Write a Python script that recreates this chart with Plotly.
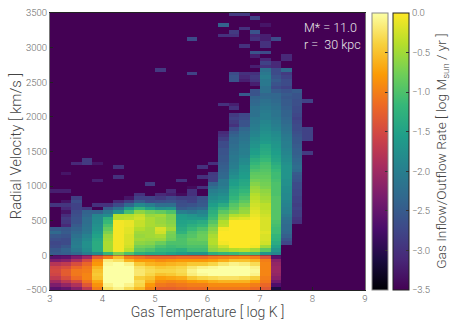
import plotly.graph_objects as go

FONT = "Roboto"
temperature_edges = [3.0 + 0.2 * i for i in range(31)]
velocity_edges = [-500 + 50 * i for i in range(81)]
inflow_velocity_edges = velocity_edges[:11]
outflow_velocity_edges = velocity_edges[10:]

# inflow: each column lists rows from -500 upward to 0 km/s
inflow_columns = [
    [-2.6,-2.3,-2.0,-1.7,-1.55,-1.5,-1.55,-1.8,-2.3,-2.6],
    [-2.5,-2.1,-1.75,-1.45,-1.3,-1.3,-1.45,-1.7,-2.2,-2.55],
    [-2.2,-1.85,-1.5,-1.15,-1.05,-1.05,-1.2,-1.45,-1.9,-2.3],
    [-1.7,-1.35,-1.1,-0.95,-0.95,-1.0,-1.05,-1.2,-1.5,-2.0],
    [-1.0,-0.85,-0.7,-0.5,-0.45,-0.5,-0.6,-0.8,-0.9,-1.3],
    [-0.25,-0.1,0,0,0,0,0,-0.05,-0.15,-1.0],
    [-0.1,0,0,0,0,0,0,0,-0.25,-0.55],
    [-0.3,-0.1,0,0,0,0,0,-0.1,-0.6,-1.0],
    [-0.55,-0.35,-0.3,-0.4,-0.2,-0.2,-0.25,-0.45,-0.8,-1.1],
    [-0.95,-0.8,-0.6,-0.5,-0.35,-0.3,-0.35,-0.6,-0.8,-1.2],
    [-1.25,-1.05,-0.9,-0.75,-0.5,-0.35,-0.45,-0.65,-0.9,-1.2],
    [-1.25,-1.1,-0.95,-0.7,-0.45,-0.35,-0.4,-0.6,-0.85,-1.2],
    [-1.2,-1.05,-0.9,-0.65,-0.35,-0.3,-0.35,-0.55,-0.8,-1.15],
    [-1.15,-1.0,-0.8,-0.45,-0.15,-0.1,-0.2,-0.45,-0.8,-1.15],
    [-1.15,-1.0,-0.75,-0.35,-0.05,0,-0.1,-0.45,-0.8,-1.15],
    [-1.05,-0.9,-0.65,-0.3,0,0,-0.05,-0.35,-0.75,-1.05],
    [-1.05,-0.9,-0.6,-0.25,0,0,0,-0.2,-0.65,-1.0],
    [-1.05,-0.9,-0.6,-0.25,0,0,0,-0.1,-0.5,-0.95],
    [-1.05,-0.9,-0.6,-0.3,0,0,0,-0.15,-0.5,-0.9],
    [-1.15,-1.0,-0.75,-0.4,-0.1,-0.05,-0.1,-0.3,-0.6,-1.0],
    [-1.35,-1.2,-1.05,-1.0,-0.95,-0.95,-0.95,-0.95,-1.0,-1.4],
    [-3.1,-2.7,-2.4,-2.2,-2.1,-2.05,-2.05,-2.1,-2.2,-2.6],
]

# outflow: each column lists rows from 0 km/s upward in 50 km/s steps
outflow_columns = [
    [-2.5,-2.55,-2.7,-2.75,-2.65,-2.55,-2.3,-2.5,-3.5,-3.5,-3.5,-3.5,-3.5,-3.5,-2.95],
    [-2.45,-2.4,-2.55,-2.7,-2.7,-2.6,-2.5,-2.55,-3.1,-2.95,-2.9,-3.05,-3.3,-3.1,-2.95,-3.3],
    [-2.3,-2.1,-2.0,-2.05,-2.1,-2.2,-2.3,-2.4,-2.5,-2.6,-2.6,-2.65,-2.7,-2.8,-2.8,-2.7,-2.85],
    [-2.0,-1.8,-1.75,-1.75,-1.85,-1.95,-2.1,-2.15,-2.2,-2.25,-2.25,-2.35,-2.4,-2.9],
    [-1.8,-1.35,-1.35,-1.35,-1.4,-1.5,-1.6,-1.7,-1.75,-1.8,-1.85,-1.9,-2.4,-3.5,-3.0],
    [-1.2,-0.45,-0.45,-0.45,-0.5,-0.55,-0.7,-0.85,-1.0,-1.15,-1.25,-1.8,-2.1,-2.5,-3.0],
    [-0.7,-0.05,-0.05,-0.05,-0.05,-0.05,-0.05,-0.05,-0.05,-0.05,-0.4,-0.4,-1.7,-2.2,-2.7,-3.1],
    [-1.0,-0.35,-0.25,-0.2,-0.2,-0.2,-0.15,-0.15,-0.1,-0.1,-0.35,-0.4,-1.05,-1.6,-2.3,-2.85,-3.3],
    [-1.3,-0.9,-0.75,-0.6,-0.5,-0.55,-0.5,-0.4,-0.3,-0.3,-0.25,-0.3,-0.6,-1.2,-1.85,-2.5,-2.8,-3.0],
    [-1.4,-1.0,-0.8,-0.65,-0.55,-0.5,-0.5,-0.5,-0.45,-0.45,-0.45,-0.55,-0.75,-1.5,-2.0,-2.7,-2.8],
    [-1.4,-1.15,-1.0,-0.8,-0.55,-0.45,-0.25,-0.2,-0.5,-0.55,-0.55,-0.5,-0.85,-1.75,-2.25,-2.65,-2.9,-3.1],
    [-1.5,-1.2,-1.1,-1.0,-0.8,-0.75,-0.7,-0.5,-0.6,-0.65,-0.7,-0.7,-1.0,-1.7,-2.25,-2.6,-2.75,-3.2,-3.1],
    [-1.6,-1.3,-1.05,-1.0,-1.0,-1.05,-1.25,-1.35,-1.45,-1.5,-1.55,-1.6,-2.0,-2.5,-2.65,-2.7,-2.85,-3.4],
    [-1.7,-1.1,-1.0,-0.9,-0.85,-0.95,-1.0,-1.15,-1.3,-1.45,-1.6,-1.7,-2.1,-2.4,-2.6,-2.8,-2.85,-3.0,-3.0,-3.4],
    [-1.7,-1.1,-1.0,-0.9,-0.8,-0.8,-0.85,-1.0,-1.2,-1.35,-1.6,-1.8,-1.95,-2.3,-2.5,-2.55,-2.65,-3.5,-3.5,-3.0],
    [-1.3,-0.6,-0.5,-0.4,-0.4,-0.45,-0.55,-0.65,-0.8,-0.95,-1.1,-1.2,-1.3,-1.4,-1.55,-1.7,-1.8,-1.9,-2.0,-2.2,-2.4,-2.85,-2.85,-2.9,-3.5,-3.5,-3.0],
    [-1.2,-0.5,-0.25,-0.05,0,0,0,-0.05,-0.35,-0.4,-0.6,-0.7,-0.9,-1.1,-1.35,-1.6,-1.7,-1.8,-1.9,-2.0,-2.1,-2.1,-2.3,-2.35,-2.4,-2.45,-2.5,-2.55,-2.55,-2.6,-2.6,-2.7,-2.7,-2.85,-3.0,-3.1],
    [-1.15,-0.4,0,0,0,0,0,0,0,0,-0.2,-0.4,-0.7,-0.85,-0.95,-1.1,-1.2,-1.3,-1.35,-1.45,-1.55,-1.6,-1.75,-1.85,-1.9,-2.0,-2.05,-2.1,-2.1,-2.15,-2.2,-2.25,-2.3,-2.3,-2.4,-2.5,-2.7,-3.0,-2.9,-2.8,-2.9],
    [-1.05,-0.35,0,0,0,0,0,0,0,0,-0.15,-0.35,-0.55,-0.6,-0.75,-0.9,-1.0,-1.1,-1.2,-1.3,-1.4,-1.45,-1.55,-1.6,-1.65,-1.7,-1.8,-1.85,-1.95,-2.0,-2.0,-2.05,-2.1,-2.15,-2.2,-2.25,-2.35,-2.6,-2.6,-2.7,-2.75],
    [-1.1,-0.5,-0.05,0,0,0,0,0,0,0,-0.05,-0.1,-0.15,-0.2,-0.25,-0.3,-0.35,-0.4,-0.5,-0.55,-0.65,-0.75,-0.85,-0.9,-1.0,-1.1,-1.2,-1.3,-1.45,-1.55,-1.6,-1.7,-1.75,-1.8,-1.9,-1.95,-2.0,-2.05,-2.1,-2.1,-2.2,-2.2,-2.2,-2.3,-2.35,-2.4],
    [-1.7,-0.9,-0.5,-0.25,-0.2,-0.2,-0.15,-0.2,-0.2,-0.2,-0.2,-0.25,-0.3,-0.35,-0.35,-0.45,-0.5,-0.55,-0.6,-0.7,-0.75,-0.8,-0.85,-0.9,-0.95,-1.0,-1.05,-1.15,-1.25,-1.35,-1.4,-1.45,-1.6,-1.65,-1.7,-1.75,-1.8,-1.85,-1.9,-2.0,-2.0,-2.05,-2.1,-2.15,-2.2,-2.3],
    [-1.9,-1.7,-1.5,-1.35,-1.25,-1.2,-1.1,-1.1,-1.05,-1.0,-0.95,-0.95,-0.95,-0.95,-0.95,-0.95,-0.95,-1.0,-1.0,-1.0,-1.0,-1.05,-1.1,-1.1,-1.15,-1.25,-1.35,-1.45,-1.5,-1.55,-1.6,-1.65,-1.7,-1.75,-1.8,-1.85,-1.95,-2.0,-2.05,-2.1,-2.15,-2.15,-2.2,-2.25,-2.3,-2.35],
    [-3.5,-3.5,-3.5,-2.75,-2.6,-2.45,-2.35,-2.3,-2.3,-2.25,-2.2,-2.1,-2.0,-2.0,-1.95,-1.9,-1.85,-1.85,-1.8,-1.8,-1.75,-1.75,-1.7,-1.7,-1.7,-1.7,-1.75,-1.8,-1.85,-1.9,-1.95,-2.0,-2.0,-2.05,-2.1,-2.15,-2.2,-2.25,-2.3,-2.35,-2.4,-2.4,-2.45,-2.5,-2.5,-2.55],
    [-3.5,-3.5,-3.5,-3.5,-3.5,-3.5,-3.5,-3.5,-3.5,-3.0,-2.95,-2.85,-2.85,-2.8,-2.85,-2.8,-2.8,-2.75,-2.75,-2.7,-2.7,-2.6,-2.55,-2.5,-2.3,-2.25,-2.3,-2.35,-2.4,-2.45,-2.45,-2.5,-2.55,-2.55,-2.6,-2.65,-2.7,-2.7,-2.75,-2.8,-2.75,-2.7,-2.7,-2.65,-2.65,-2.6],
    [],
]

# isolated faint cells: (column index, lower velocity edge, value)
outflow_spots = [
    (2,1300,-3.1),(3,1300,-2.9),(3,1350,-2.9),(4,1300,-3.3),(6,1250,-3.0),(6,1100,-3.0),
    (1,1150,-3.3),(4,1050,-3.2),(9,1000,-2.9),(11,900,-3.1),(0,900,-3.2),(1,900,-3.2),
    (12,1050,-3.0),(14,1250,-3.0),(14,1100,-3.0),(14,950,-3.0),
    (10,2650,-2.9),(13,3100,-2.7),(13,2600,-2.8),
    (17,3450,-2.9),(18,3450,-2.9),(19,3400,-2.8),(16,3300,-2.4),(18,3250,-3.0),(20,3300,-3.3),
    (17,3200,-2.9),(19,3200,-2.6),(16,3150,-3.0),(17,3150,-3.0),(19,3150,-3.1),(20,3150,-3.2),
    (21,3100,-2.7),(19,3100,-3.0),(20,3100,-3.2),(20,3050,-3.0),(18,3000,-3.0),(20,3000,-3.0),
    (19,2900,-2.6),(20,2900,-2.7),(19,2850,-3.2),(22,2850,-3.1),(20,2800,-3.1),(22,2800,-3.1),
    (20,2750,-2.8),(21,2750,-3.1),(19,2700,-3.2),(20,2700,-3.0),(21,2700,-3.1),
    (20,2650,-2.2),(21,2650,-2.7),(22,2650,-2.3),
    (17,2600,-2.7),(18,2600,-3.0),(19,2600,-3.0),(20,2600,-2.1),(21,2600,-2.7),(22,2600,-2.9),
    (17,2550,-2.6),(18,2550,-3.1),(19,2550,-2.9),(20,2550,-2.0),(21,2550,-2.6),(22,2550,-2.8),
    (17,2500,-2.6),(18,2500,-3.2),(19,2500,-2.95),(20,2500,-2.1),(21,2500,-2.5),(22,2500,-2.7),
    (19,2450,-3.2),(20,2450,-2.1),(21,2450,-2.6),(22,2450,-2.7),
    (20,2400,-2.2),(21,2400,-2.7),(22,2400,-2.8),
    (19,2350,-2.6),(20,2350,-2.2),(21,2350,-2.5),(22,2350,-2.6),(23,2350,-2.5),
    (18,2300,-2.5),(19,2300,-2.6),(20,2300,-2.35),(21,2300,-2.35),(22,2300,-2.5),(23,2300,-2.6),
    (24,2200,-2.8),(16,2150,-3.0),(17,2150,-3.2),(17,2100,-3.0),
    (24,1800,-2.8),(24,1750,-2.8),(24,1700,-2.8),(24,1650,-2.8),(24,1450,-2.9),
]

x_ticks = [3, 4, 5, 6, 7, 8, 9]
y_ticks = [-500, 0, 500, 1000, 1500, 2000, 2500, 3000, 3500]
cbar_ticks = [-3.5, -3.0, -2.5, -2.0, -1.5, -1.0, -0.5, 0.0]
cbar_labels = ["−3.5", "−3.0", "−2.5", "−2.0", "−1.5", "−1.0", "−0.5", "0.0"]
x_title = "Gas Temperature [ log K ]"
y_title = "Radial Velocity [ km/s ]"
cbar_title = "Gas Inflow/Outflow Rate [ log M<sub>sun</sub> / yr ]"
labels = ["M* = 11.0", "r =  30 kpc"]

inflow_z = [[col[r] for col in inflow_columns] for r in range(10)]
outflow_grid = [[None] * len(outflow_columns) for _ in range(70)]
for c, col in enumerate(outflow_columns):
    for r, v in enumerate(col):
        outflow_grid[r][c] = v
for c, vel, v in outflow_spots:
    outflow_grid[vel // 50][c] = v

TICK = dict(family=FONT, size=9.5, color="#666666", weight=300)
TITLE = dict(family=FONT, color="#444444", weight=300)
fig = go.Figure()
fig.add_trace(go.Heatmap(
    z=outflow_grid, x=temperature_edges[:26], y=outflow_velocity_edges,
    colorscale="Viridis", zmin=-3.5, zmax=0, hoverongaps=False,
    colorbar=dict(x=(393 - 50) / 315, xanchor="left", xpad=0, ypad=0, y=0, yanchor="bottom",
                  len=1, thickness=16, outlinecolor="#222222", outlinewidth=1,
                  tickmode="array", tickvals=cbar_ticks, ticktext=cbar_labels,
                  ticks="inside", ticklen=3, tickcolor="#333333", tickfont=TICK),
))
fig.add_trace(go.Heatmap(
    z=inflow_z, x=temperature_edges[:23], y=inflow_velocity_edges,
    colorscale="Inferno", zmin=-3.5, zmax=0,
    colorbar=dict(x=(372 - 50) / 315, xanchor="left", xpad=0, ypad=0, y=0, yanchor="bottom",
                  len=1, thickness=16, outlinecolor="#888888", outlinewidth=1,
                  tickmode="array", tickvals=cbar_ticks, showticklabels=False,
                  ticks="inside", ticklen=3, tickcolor="#333333"),
))
fig.update_layout(
    width=457, height=327, autosize=False,
    margin=dict(l=50, r=92, t=12.5, b=37, pad=0, autoexpand=False),
    paper_bgcolor="white", plot_bgcolor="#440154", showlegend=False,
    font=dict(family=FONT, color="#444444"),
    xaxis=dict(range=[3, 9], tickmode="array", tickvals=x_ticks, ticks="inside", ticklen=3,
               tickcolor="#222222", tickfont=TICK, showgrid=False, zeroline=False,
               showline=True, linecolor="#222222", linewidth=1, mirror=True,
               title=dict(text=x_title, font=dict(size=14, **TITLE), standoff=3)),
    yaxis=dict(range=[-500, 3500], tickmode="array", tickvals=y_ticks, ticks="inside", ticklen=3,
               tickcolor="#222222", tickfont=TICK, showgrid=False, zeroline=False,
               showline=True, linecolor="#777777", linewidth=1, mirror=True),
    annotations=[
        dict(text=labels[0], x=(302 - 50) / 315, y=(290 - 27) / 277.5, xref="paper", yref="paper",
             xanchor="left", yanchor="middle", showarrow=False,
             font=dict(family=FONT, size=12.5, color="#e8e8e8", weight=300)),
        dict(text=labels[1], x=(302 - 50) / 315, y=(290 - 44) / 277.5, xref="paper", yref="paper",
             xanchor="left", yanchor="middle", showarrow=False,
             font=dict(family=FONT, size=12.5, color="#e8e8e8", weight=300)),
        dict(text=y_title, x=(16 - 50) / 315, y=(290 - 146) / 277.5, xref="paper", yref="paper",
             xanchor="center", yanchor="middle", textangle=-90, showarrow=False,
             font=dict(size=14.8, **TITLE)),
        dict(text=cbar_title, x=(442 - 50) / 315, y=(290 - 151.5) / 277.5, xref="paper", yref="paper",
             xanchor="center", yanchor="middle", textangle=-90, showarrow=False,
             font=dict(size=13.7, **TITLE)),
    ],
)
fig.write_html("out.html", config={"displayModeBar": False},
               post_script="document.body.style.margin='0';document.body.style.overflow='hidden';")
